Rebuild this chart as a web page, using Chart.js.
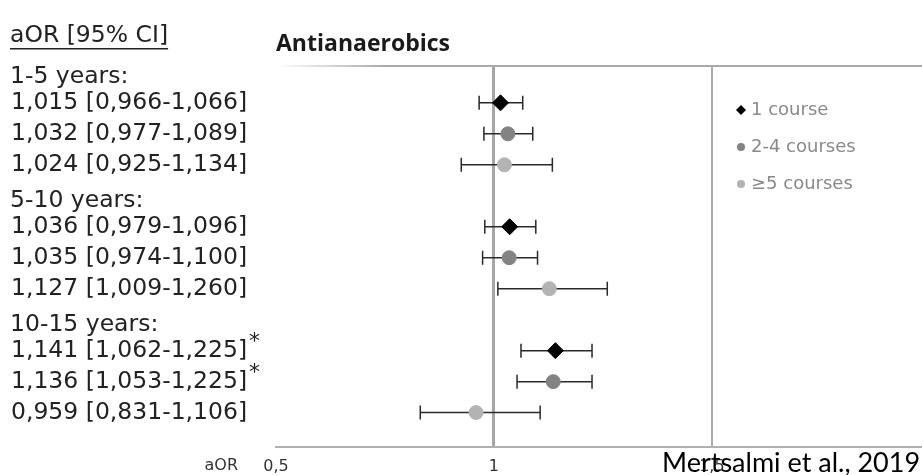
<!DOCTYPE html>
<html>
<head>
<meta charset="utf-8">
<script src="https://cdn.jsdelivr.net/npm/chart.js@4/dist/chart.umd.min.js"></script>
<style>
  html, body { margin: 0; padding: 0; background: #fff; overflow: hidden; }
  #wrap { width: 922px; height: 475px; position: relative; }
</style>
</head>
<body>
<div id="wrap"><canvas id="forest"></canvas></div>
<script>
// age groups and treatment courses
const groups = ['1-5 years:', '5-10 years:', '10-15 years:'];
const courses = ['1 course', '2-4 courses', '≥5 courses'];

// adjusted odds ratios with 95% CI, one entry per age group
const aor1 = [1.015, 1.036, 1.141];
const lo1 = [0.966, 0.979, 1.062];
const hi1 = [1.066, 1.096, 1.225];

const aor2 = [1.032, 1.035, 1.136];
const lo2 = [0.977, 0.974, 1.053];
const hi2 = [1.089, 1.100, 1.225];

const aor3 = [1.024, 1.127, 0.959];
const lo3 = [0.925, 1.009, 0.831];
const hi3 = [1.134, 1.260, 1.106];

// rows marked with an asterisk
const star1 = [false, false, true];
const star2 = [false, false, true];
const star3 = [false, false, false];

const xTicks = [0.5, 1, 1.5];

const series = [
    { name: courses[0], aor: aor1, lo: lo1, hi: hi1, star: star1, color: '#000000', style: 'rectRot', radius: 8 },
    { name: courses[1], aor: aor2, lo: lo2, hi: hi2, star: star2, color: '#838383', style: 'circle', radius: 7 },
    { name: courses[2], aor: aor3, lo: lo3, hi: hi3, star: star3, color: '#b3b3b3', style: 'circle', radius: 7 }
];

// each age group takes 4 rows: header + one row per course
function rowOf(g, s) { return g * 4 + 1 + s; }
function fmt(v) { return v.toFixed(3).replace('.', ','); }

const labelFont = '23.5px "DejaVu Sans"';

const forestPlugin = {
    id: 'forest',
    beforeDatasetsDraw(chart) {
        const ctx = chart.ctx;
        const xs = chart.scales.x, ys = chart.scales.y;
        ctx.save();
        // top frame line
        const a = chart.chartArea;
        const grad = ctx.createLinearGradient(a.left, 0, a.left + 110, 0);
        grad.addColorStop(0, 'rgba(170,170,170,0)');
        grad.addColorStop(1, 'rgba(170,170,170,1)');
        ctx.strokeStyle = grad;
        ctx.lineWidth = 2;
        ctx.beginPath();
        ctx.moveTo(a.left, a.top);
        ctx.lineTo(a.right, a.top);
        ctx.stroke();
        // confidence intervals
        ctx.strokeStyle = '#2a2a2a';
        ctx.lineWidth = 1.5;
        series.forEach((s, si) => {
            s.aor.forEach((v, g) => {
                const y = ys.getPixelForValue(rowOf(g, si));
                const x0 = xs.getPixelForValue(s.lo[g]);
                const x1 = xs.getPixelForValue(s.hi[g]);
                ctx.beginPath();
                ctx.moveTo(x0, y); ctx.lineTo(x1, y);
                ctx.moveTo(x0, y - 7); ctx.lineTo(x0, y + 7);
                ctx.moveTo(x1, y - 7); ctx.lineTo(x1, y + 7);
                ctx.stroke();
            });
        });
        ctx.restore();
    },
    afterDraw(chart) {
        const ctx = chart.ctx;
        const ys = chart.scales.y;
        ctx.save();
        ctx.fillStyle = '#222';
        ctx.textBaseline = 'middle';
        ctx.textAlign = 'left';
        ctx.font = labelFont;

        // column header, underlined
        const head = 'aOR [95% CI]';
        ctx.fillText(head, 10, 36);
        const hw = ctx.measureText(head).width;
        ctx.fillRect(10, 48, hw, 1.5);

        groups.forEach((name, g) => {
            ctx.font = labelFont;
            ctx.fillText(name, 10, ys.getPixelForValue(g * 4) + 5);
            series.forEach((s, si) => {
                const y = ys.getPixelForValue(rowOf(g, si));
                const txt = fmt(s.aor[g]) + ' [' + fmt(s.lo[g]) + '-' + fmt(s.hi[g]) + ']';
                ctx.font = labelFont;
                ctx.fillText(txt, 11, y);
                if (s.star[g]) {
                    const w = ctx.measureText(txt).width;
                    ctx.font = '22px "DejaVu Sans"';
                    ctx.fillText('*', 11 + w + 2, y - 8);
                }
            });
        });

        // legend
        const legendY = [110, 147, 184];
        series.forEach((s, si) => {
            const y = legendY[si];
            ctx.fillStyle = s.color;
            ctx.beginPath();
            if (s.style === 'rectRot') {
                ctx.moveTo(741, y - 5); ctx.lineTo(746, y); ctx.lineTo(741, y + 5); ctx.lineTo(736, y);
            } else {
                ctx.arc(741, y, 4, 0, Math.PI * 2);
            }
            ctx.fill();
            ctx.fillStyle = '#8a8a8a';
            ctx.font = '18px "DejaVu Sans"';
            ctx.fillText(s.name, 751, y);
        });

        // axis name next to the tick labels
        ctx.fillStyle = '#333';
        ctx.font = '16px "DejaVu Sans"';
        ctx.textAlign = 'right';
        ctx.fillText('aOR', 238, 466);

        // source note
        ctx.fillStyle = '#000';
        ctx.textAlign = 'left';
        ctx.font = '27px Lato';
        ctx.fillText('Mertsalmi et al., 2019', 662, 463);
        ctx.restore();
    }
};

const datasets = series.map((s, si) => ({
    label: s.name,
    data: s.aor.map((v, g) => ({ x: v, y: rowOf(g, si) })),
    backgroundColor: s.color,
    borderColor: s.color,
    pointStyle: s.style,
    pointRadius: s.radius,
    pointHoverRadius: s.radius,
    showLine: false
}));

new Chart(document.getElementById('forest'), {
    type: 'scatter',
    data: { datasets: datasets },
    options: {
        responsive: true,
        maintainAspectRatio: false,
        animation: false,
        layout: { autoPadding: false, padding: { left: 276, right: 0, top: 20, bottom: 1 } },
        plugins: {
            legend: { display: false },
            tooltip: { enabled: false },
            title: {
                display: true,
                text: 'Antianaerobics',
                align: 'start',
                color: '#1a1a1a',
                font: { family: '"Open Sans"', size: 23, weight: 'bold' },
                padding: { top: 11, bottom: 7.4 }
            }
        },
        scales: {
            x: {
                type: 'linear',
                min: 0.5,
                max: 1.982,
                afterBuildTicks(scale) {
                    scale.ticks = xTicks.map(v => ({ value: v }));
                },
                afterFit(scale) {
                    scale.height = 27;
                },
                grid: {
                    drawTicks: false,
                    color: c => c.tick && c.tick.value === 1 ? '#a6a6a6' : (c.tick && c.tick.value === 1.5 ? '#ababab' : 'rgba(0,0,0,0)'),
                    lineWidth: c => c.tick && c.tick.value === 1 ? 3 : 2
                },
                border: { display: true, color: '#b0b0b0', width: 2 },
                ticks: {
                    color: '#333',
                    padding: 10,
                    font: { family: '"DejaVu Sans"', size: 16 },
                    callback: v => String(v).replace('.', ',')
                }
            },
            y: {
                type: 'linear',
                display: false,
                reverse: true,
                min: -0.19,
                max: 12.11
            }
        }
    },
    plugins: [forestPlugin]
});
</script>
</body>
</html>
